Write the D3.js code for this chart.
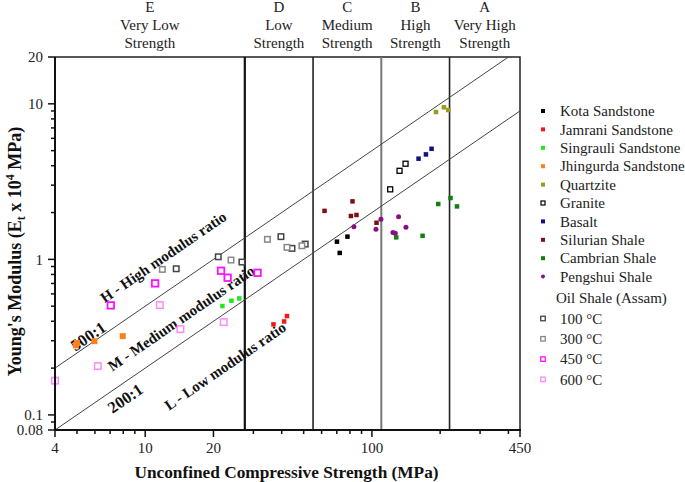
<!DOCTYPE html>
<html>
<head>
<meta charset="utf-8">
<script src="https://cdn.jsdelivr.net/npm/d3@7"></script>
<style>
  body { margin: 0; background: #fff; }
  svg { font-family: "Liberation Serif", "Times New Roman", serif; }
</style>
</head>
<body>
<script>
// data: [UCS (MPa), E (x10^4 MPa)]
const kota = [[70.1, 1.30], [72.1, 1.10], [78.0, 1.40]];
const jamrani = [[36.8, 0.382], [41.0, 0.399], [42.2, 0.432]];
const singrauli = [[21.9, 0.501], [24.0, 0.542], [26.0, 0.561]];
const jhingurda = [[4.95, 0.28], [5.0, 0.29], [5.97, 0.298], [7.96, 0.321]];
const quartzite = [[191.7, 8.86], [207.8, 9.50], [217.2, 9.12]];
const granite = [[120.4, 2.82], [132.4, 3.71], [140.7, 4.12]];
const basalt = [[160.6, 4.44], [173.1, 4.73], [183.3, 5.14]];
const silurian = [[61.8, 2.05], [82.1, 2.36], [80.8, 1.90], [85.5, 1.93], [104.8, 1.72]];
const cambrian = [[128.0, 1.385], [167.3, 1.418], [196.2, 2.27], [222.2, 2.48], [237.3, 2.19]];
const pengshui = [[83.3, 1.62], [109.6, 1.81], [104.2, 1.56], [131.1, 1.88], [123.8, 1.49], [126.8, 1.47], [141.3, 1.61]];
const oil100 = [[13.7, 0.870], [21.0, 1.039], [26.7, 0.961], [39.7, 1.40], [44.4, 1.177], [50.8, 1.254]];
const oil300 = [[11.9, 0.862], [23.9, 0.99], [34.6, 1.345], [42.2, 1.195], [49.1, 1.223]];
const oil450 = [[7.05, 0.506], [11.06, 0.701], [21.6, 0.845], [23.1, 0.762], [31.3, 0.820]];
const oil600 = [[4.0, 0.166], [6.18, 0.206], [11.6, 0.508], [14.3, 0.356], [22.2, 0.395]];

const seriesNames = ['Kota Sandstone', 'Jamrani Sandstone', 'Singrauli Sandstone', 'Jhingurda Sandstone',
  'Quartzite', 'Granite', 'Basalt', 'Silurian Shale', 'Cambrian Shale', 'Pengshui Shale'];
const oilNames = ['100 \u00B0C', '300 \u00B0C', '450 \u00B0C', '600 \u00B0C'];

// strength class boundaries (MPa) and class names
const classBounds = [27.5, 55, 110, 220];
const classLabels = [['E', 'Very Low', 'Strength'], ['D', 'Low', 'Strength'], ['C', 'Medium', 'Strength'],
  ['B', 'High', 'Strength'], ['A', 'Very High', 'Strength']];

// modulus ratio lines
const ratios = [500, 200];

const xMajor = [4, 10, 20, 100, 450];
const xMinor = [5, 6, 7, 8, 9, 30, 40, 50, 60, 70, 80, 90, 200, 300, 400];
const yMajor = [0.08, 0.1, 1, 10, 20];
const yMinor = [0.09, 0.2, 0.3, 0.4, 0.5, 0.6, 0.7, 0.8, 0.9, 2, 3, 4, 5, 6, 7, 8, 9];

// styles, one per series
const styles = [
  {data: kota, shape: 'sq', fill: '#000', size: 4.5},
  {data: jamrani, shape: 'sq', fill: '#f01818', size: 4.5},
  {data: singrauli, shape: 'sq', fill: '#22e822', size: 4.5},
  {data: jhingurda, shape: 'sq', fill: '#ff8018', size: 6},
  {data: quartzite, shape: 'sq', fill: '#9a9a1e', size: 4.5},
  {data: granite, shape: 'open', stroke: '#000', size: 5, sw: 1.3},
  {data: basalt, shape: 'sq', fill: '#101080', size: 4.5},
  {data: silurian, shape: 'sq', fill: '#801010', size: 4.5},
  {data: cambrian, shape: 'sq', fill: '#108010', size: 4.5},
  {data: pengshui, shape: 'circ', fill: '#881080', size: 5}
];
const oilStyles = [
  {data: oil100, stroke: '#444', size: 5.5, sw: 1.5},
  {data: oil300, stroke: '#888', size: 5.5, sw: 1.5},
  {data: oil450, stroke: '#ff10ff', size: 6.5, sw: 1.8},
  {data: oil600, stroke: '#ff88ff', size: 6.5, sw: 1.5}
];

const W = 685, H = 482;
const mLeft = 55, mRight = 520, mTop = 57, mBottom = 430;
const FS = 15;

const svg = d3.select('body').append('svg').attr('width', W).attr('height', H);

const x = d3.scaleLog().domain([4, 450]).range([mLeft, mRight]);
const y = d3.scaleLog().domain([0.08, 20]).range([mBottom, mTop]);

svg.append('clipPath').attr('id', 'plot')
  .append('rect').attr('x', mLeft).attr('y', mTop).attr('width', mRight - mLeft).attr('height', mBottom - mTop);

// frame top/right
svg.append('path')
  .attr('d', `M${mLeft},${mTop}H${mRight}V${mBottom}`)
  .attr('fill', 'none').attr('stroke', '#222').attr('stroke-width', 1.5);

// class boundary lines
const boundStyle = [{c: '#111', w: 2.2}, {c: '#222', w: 1.6}, {c: '#777', w: 2}, {c: '#222', w: 1.6}];
svg.selectAll('.bound').data(classBounds).enter().append('line')
  .attr('x1', d => x(d)).attr('x2', d => x(d))
  .attr('y1', mTop).attr('y2', mBottom)
  .attr('stroke', (d, i) => boundStyle[i].c)
  .attr('stroke-width', (d, i) => boundStyle[i].w);

// class labels above
const edges = [4].concat(classBounds, [450]);
classLabels.forEach((lines, i) => {
  const cx = (x(edges[i]) + x(edges[i + 1])) / 2;
  lines.forEach((t, j) => {
    svg.append('text').attr('x', cx).attr('y', 12 + j * 18)
      .attr('text-anchor', 'middle').attr('font-size', FS).attr('fill', '#222').text(t);
  });
});

// ratio lines
const line = d3.line().x(d => x(d[0])).y(d => y(d[1]));
svg.append('g').attr('clip-path', 'url(#plot)')
  .selectAll('path').data(ratios).enter().append('path')
  .attr('d', r => line([[4, r * 4 / 1e4], [450, r * 450 / 1e4]]))
  .attr('fill', 'none').attr('stroke', '#444').attr('stroke-width', 1);

// labels along the lines
const ang = Math.atan((y(1) - y(10)) / (x(40) - x(4))) * 180 / Math.PI;
const notes = [
  {t: 'H - High modulus ratio', u: 12.0, e: 1.035, fs: 15},
  {t: '500:1', u: 5.6, e: 0.321, fs: 16.5},
  {t: 'M - Medium modulus ratio', u: 14.4, e: 0.419, fs: 15},
  {t: '200:1', u: 8.16, e: 0.128, fs: 16.5},
  {t: 'L - Low modulus ratio', u: 22.5, e: 0.206, fs: 15}
];
svg.selectAll('.note').data(notes).enter().append('text')
  .attr('transform', d => `translate(${x(d.u)},${y(d.e)}) rotate(${-ang})`)
  .attr('text-anchor', 'middle').attr('dy', '0.35em')
  .attr('font-weight', 'bold').attr('font-size', d => d.fs).attr('fill', '#111')
  .text(d => d.t);

// markers
function drawMarker(g, s, px, py) {
  if (s.shape === 'circ') {
    g.append('circle').attr('cx', px).attr('cy', py).attr('r', s.size / 2).attr('fill', s.fill);
  } else if (s.shape === 'sq') {
    g.append('rect').attr('x', px - s.size / 2).attr('y', py - s.size / 2)
      .attr('width', s.size).attr('height', s.size).attr('fill', s.fill);
  } else {
    g.append('rect').attr('x', px - s.size / 2).attr('y', py - s.size / 2)
      .attr('width', s.size).attr('height', s.size)
      .attr('fill', '#fff').attr('stroke', s.stroke).attr('stroke-width', s.sw);
  }
}
const pts = svg.append('g');
oilStyles.forEach(s => {
  s.shape = 'open';
  s.data.forEach(d => drawMarker(pts, s, x(d[0]), y(d[1])));
});
styles.forEach(s => s.data.forEach(d => drawMarker(pts, s, x(d[0]), y(d[1]))));

// axes
svg.append('line').attr('x1', mLeft).attr('x2', mLeft).attr('y1', mTop).attr('y2', mBottom)
  .attr('stroke', '#111').attr('stroke-width', 2);
svg.append('line').attr('x1', mLeft).attr('x2', mRight + 1).attr('y1', mBottom).attr('y2', mBottom)
  .attr('stroke', '#111').attr('stroke-width', 2);

const xAx = svg.append('g');
xAx.selectAll('.mj').data(xMajor).enter().append('line')
  .attr('x1', d => x(d)).attr('x2', d => x(d)).attr('y1', mBottom).attr('y2', mBottom + 7)
  .attr('stroke', '#111').attr('stroke-width', 1.5);
xAx.selectAll('.mn').data(xMinor).enter().append('line')
  .attr('x1', d => x(d)).attr('x2', d => x(d)).attr('y1', mBottom).attr('y2', mBottom + 4)
  .attr('stroke', '#111').attr('stroke-width', 1.5);
xAx.selectAll('text').data(xMajor).enter().append('text')
  .attr('x', d => x(d)).attr('y', mBottom + 23).attr('text-anchor', 'middle')
  .attr('font-size', FS).attr('fill', '#222').text(d => d);

const yAx = svg.append('g');
yAx.selectAll('.mj').data(yMajor).enter().append('line')
  .attr('y1', d => y(d)).attr('y2', d => y(d)).attr('x1', mLeft).attr('x2', mLeft - 7)
  .attr('stroke', '#111').attr('stroke-width', 1.5);
yAx.selectAll('.mn').data(yMinor).enter().append('line')
  .attr('y1', d => y(d)).attr('y2', d => y(d)).attr('x1', mLeft).attr('x2', mLeft - 4)
  .attr('stroke', '#111').attr('stroke-width', 1.5);
yAx.selectAll('text').data(yMajor).enter().append('text')
  .attr('x', mLeft - 12).attr('y', d => y(d)).attr('dy', '0.35em').attr('text-anchor', 'end')
  .attr('font-size', FS).attr('fill', '#222').text(d => d);

// axis titles
svg.append('text').attr('x', (mLeft + mRight) / 2 - 1).attr('y', 478).attr('text-anchor', 'middle')
  .attr('font-weight', 'bold').attr('font-size', 17.3).attr('fill', '#111')
  .text('Unconfined Compressive Strength (MPa)');

const yt = svg.append('text').attr('transform', `translate(21,${(mTop + mBottom) / 2 + 8}) rotate(-90)`)
  .attr('text-anchor', 'middle').attr('font-weight', 'bold').attr('font-size', 18).attr('fill', '#111');
yt.append('tspan').text("Young's Modulus (E");
yt.append('tspan').attr('font-size', 12).attr('dy', 4).text('t');
yt.append('tspan').attr('dy', -4).text(' x 10');
yt.append('tspan').attr('font-size', 12).attr('dy', -7).text('4');
yt.append('tspan').attr('dy', 7).text(' MPa)');

// legend
const lg = svg.append('g');
seriesNames.forEach((n, i) => {
  const ly = 111 + i * 18.4;
  const s = Object.assign({}, styles[i], {size: 4});
  if (s.shape === 'open') s.sw = 1.2;
  drawMarker(lg, s, 543, ly);
  lg.append('text').attr('x', 560).attr('y', ly).attr('dy', '0.35em')
    .attr('font-size', FS).attr('fill', '#222').text(n);
});
lg.append('text').attr('x', 556).attr('y', 298).attr('dy', '0.35em')
  .attr('font-size', FS).attr('fill', '#222').text('Oil Shale (Assam)');
oilNames.forEach((n, i) => {
  const ly = 318.5 + i * 20.3;
  const s = Object.assign({}, oilStyles[i], {size: 4.5, sw: 1.3});
  drawMarker(lg, s, 543, ly);
  lg.append('text').attr('x', 560).attr('y', ly).attr('dy', '0.35em')
    .attr('font-size', FS).attr('fill', '#222').text(n);
});
</script>
</body>
</html>
